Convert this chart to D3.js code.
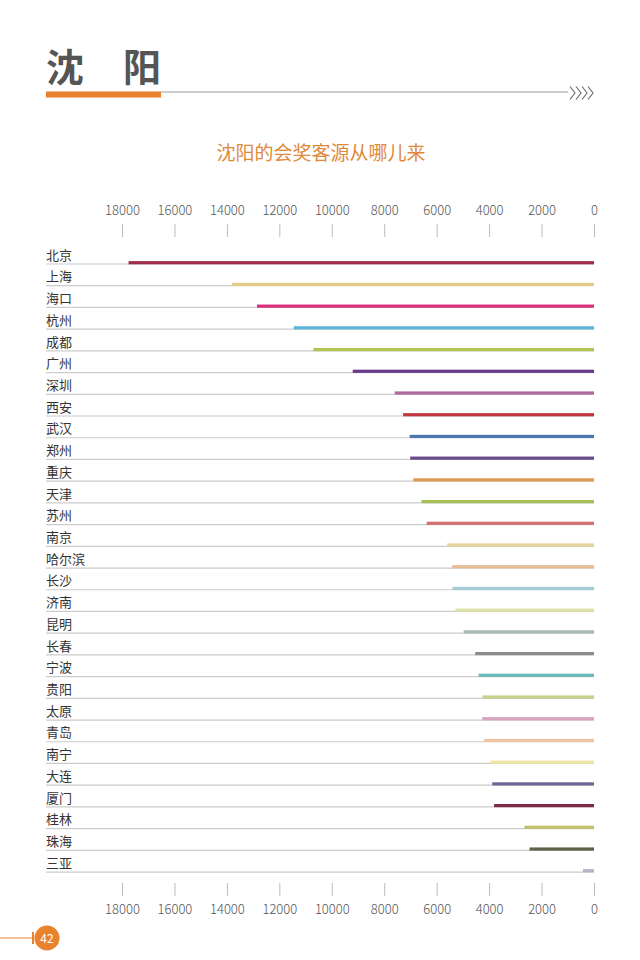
<!DOCTYPE html>
<html><head><meta charset="utf-8">
<script src="https://cdn.jsdelivr.net/npm/d3@7/dist/d3.min.js"></script>
<style>
html,body{margin:0;padding:0;background:#fff;}
svg{display:block;}
text{font-family:"Noto Sans CJK SC","Noto Sans",sans-serif;}
</style></head>
<body>
<svg id="c" width="640" height="960"></svg>
<script>
const cities = ["北京","上海","海口","杭州","成都","广州","深圳","西安","武汉","郑州","重庆","天津","苏州","南京","哈尔滨","长沙","济南","昆明","长春","宁波","贵阳","太原","青岛","南宁","大连","厦门","桂林","珠海","三亚"];
const values = [17750,13800,12850,11450,10700,9200,7600,7280,7030,7010,6890,6580,6380,5600,5410,5400,5280,4970,4530,4400,4250,4260,4190,3950,3880,3810,2650,2460,420];
const colors = ["#9E2F48","#E4CB85","#D9307E","#5BB5D9","#B3C454","#6A3A8A","#B06A9E","#C0363C","#4A77AE","#6A4C8C","#DD9A50","#A5BE5A","#D07070","#E5D49B","#E6BC96","#A5CCD6","#DDE3A8","#A5B8B2","#8C8C8C","#6BB8BA","#C4D38A","#D8A4BE","#EBC4A4","#F0E6A4","#6B6894","#7E2C48","#C2C068","#5C6448","#B8B0CC"];
const tickValues = [18000,16000,14000,12000,10000,8000,6000,4000,2000,0];
const pageTitle = "沈阳";
const chartTitle = "沈阳的会奖客源从哪儿来";
const pageNumber = "42";

const svg = d3.select("#c");
const orange = "#E8822C";

// Header
svg.append("text").attr("x",46).attr("y",81).attr("font-size",38).attr("font-weight",700)
  .attr("fill","#555").text(pageTitle[0]);
svg.append("text").attr("x",123).attr("y",81).attr("font-size",38).attr("font-weight",700)
  .attr("fill","#555").text(pageTitle[1]);
svg.append("rect").attr("x",46).attr("y",91.5).attr("width",115).attr("height",6).attr("fill",orange);
svg.append("line").attr("x1",161).attr("x2",568).attr("y1",92).attr("y2",92)
  .attr("stroke","#999").attr("stroke-width",1);
for(let i=0;i<4;i++){
  const x0 = 570 + i*6;
  svg.append("path").attr("d",`M${x0},86.5 L${x0+5},93 L${x0},99.5`)
    .attr("fill","none").attr("stroke","#666").attr("stroke-width",1.1);
}

// Subtitle
svg.append("text").attr("x",321).attr("y",160).attr("text-anchor","middle")
  .attr("font-size",19).attr("fill","#E0893A").text(chartTitle);

// Scales
const x = d3.scaleLinear().domain([0,18000]).range([594,122]);
const y = d3.scaleBand().domain(cities).range([251.85,881.6]).paddingInner(0).paddingOuter(0);
const rowY = d => y(d) + y.bandwidth()/2;

// Axes
function styleAxis(g){
  g.select(".domain").remove();
  g.selectAll(".tick line").attr("stroke","#bbb").attr("stroke-width",1);
  g.selectAll(".tick text").attr("fill","#555").attr("font-size",13)
    .attr("font-family","Lato, 'Noto Sans', sans-serif").attr("font-weight",300);
}
const topAxis = d3.axisTop(x).tickValues(tickValues).tickFormat(d3.format("d")).tickSize(-13).tickPadding(9);
svg.append("g").attr("transform","translate(0,224)").call(topAxis).call(styleAxis);
const botAxis = d3.axisBottom(x).tickValues(tickValues).tickFormat(d3.format("d")).tickSize(13).tickPadding(-3);
const bg = svg.append("g").attr("transform","translate(0,883)").call(botAxis).call(styleAxis);
bg.selectAll(".tick text").attr("dy","1.6em");

// Rows
const rows = svg.append("g").selectAll("g").data(cities).join("g");
rows.append("line").attr("x1",46).attr("x2",594)
  .attr("y1",d=>rowY(d)+1.3).attr("y2",d=>rowY(d)+1.3)
  .attr("stroke","#ccc").attr("stroke-width",1.2);
rows.append("rect")
  .attr("x",(d,i)=>x(values[i]))
  .attr("width",(d,i)=>x(0)-x(values[i]))
  .attr("y",d=>rowY(d)-1.6).attr("height",3.2)
  .attr("fill",(d,i)=>colors[i]);
rows.append("text").attr("x",46).attr("y",d=>rowY(d)-3)
  .attr("font-size",13).attr("fill","#333").text(d=>d);

// Page number
svg.append("line").attr("x1",0).attr("x2",33).attr("y1",938).attr("y2",938)
  .attr("stroke",orange).attr("stroke-width",1.2);
svg.append("line").attr("x1",33).attr("x2",33).attr("y1",932).attr("y2",944)
  .attr("stroke",orange).attr("stroke-width",2);
svg.append("circle").attr("cx",47).attr("cy",938).attr("r",12.5).attr("fill",orange);
svg.append("text").attr("x",47).attr("y",942.5).attr("text-anchor","middle")
  .attr("font-size",12).attr("fill","#fff").attr("font-family","Lato, 'Noto Sans', sans-serif").text(pageNumber);
</script>
</body></html>
